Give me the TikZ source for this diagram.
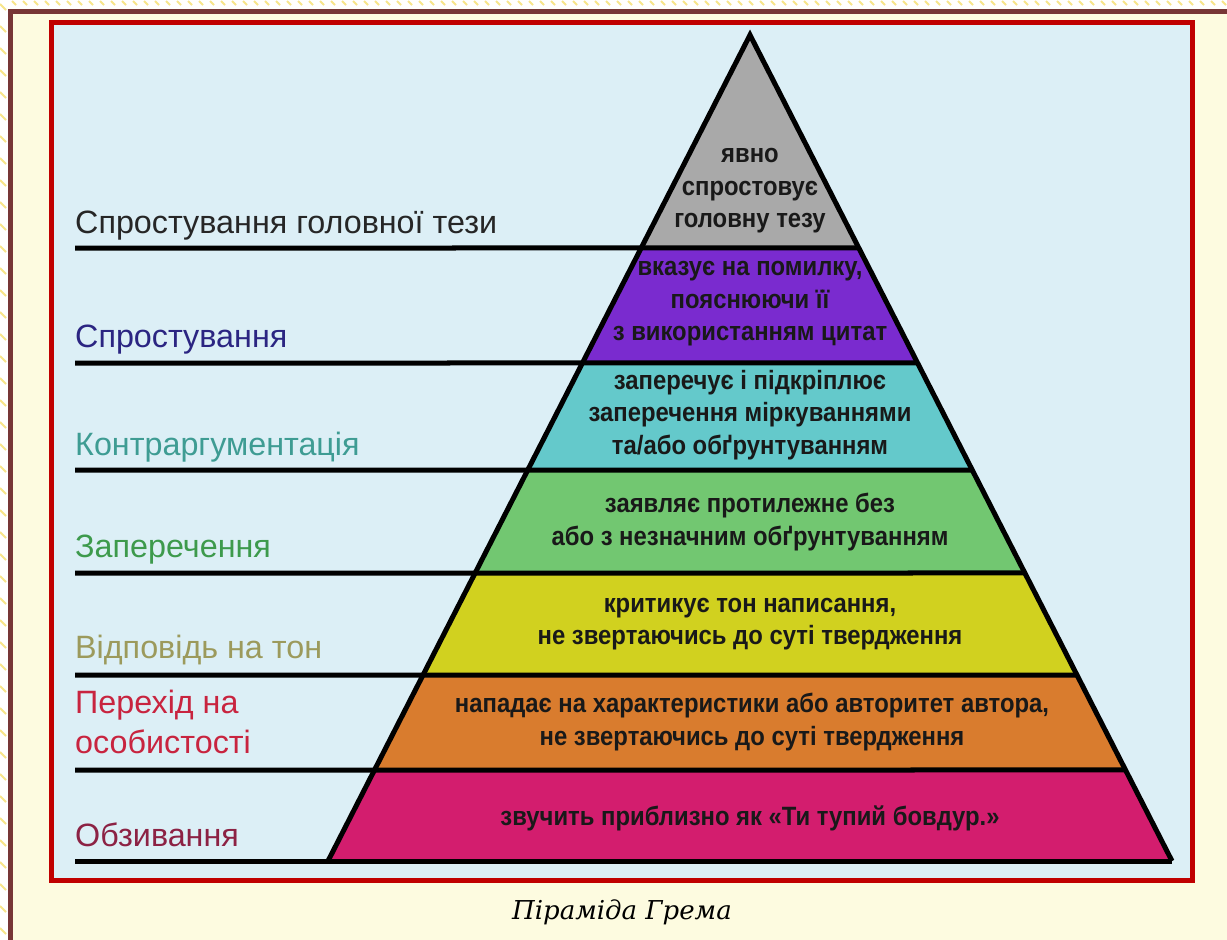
\documentclass[tikz,border=0pt]{standalone}
\usepackage{fontspec}
\setmainfont{Liberation Sans}
\newfontfamily\notefont[FakeStretch=0.9]{Liberation Sans}
\newfontfamily\capfont{DejaVu Serif}
\usetikzlibrary{calc}

% page and frame
\definecolor{pagebrown}{HTML}{773636}
\definecolor{pagecream}{HTML}{FDFBE0}
\definecolor{framered}{HTML}{C00000}
\definecolor{skyback}{HTML}{DCEFF6}
\definecolor{dashyellow}{HTML}{F7E58A}
% layers
\definecolor{lvgrey}{HTML}{A9A9A9}
\definecolor{lvpurple}{HTML}{7A2BCF}
\definecolor{lvcyan}{HTML}{64C9CB}
\definecolor{lvgreen}{HTML}{72C771}
\definecolor{lvyellow}{HTML}{D1D11F}
\definecolor{lvorange}{HTML}{D97C2E}
\definecolor{lvmagenta}{HTML}{D31D6E}
% side captions
\definecolor{tgrey}{HTML}{262626}
\definecolor{tpurple}{HTML}{2B2582}
\definecolor{tcyan}{HTML}{3E9C93}
\definecolor{tgreen}{HTML}{3D9A4C}
\definecolor{tolive}{HTML}{9C9A5C}
\definecolor{tred}{HTML}{C8243F}
\definecolor{tmaroon}{HTML}{8C2244}

\begin{document}
\begin{tikzpicture}[x=1pt, y=-1pt,
  tag/.style={anchor=base west, inner sep=0pt, text=#1,
              font=\fontsize{32.3}{40}\selectfont},
  note/.style={align=center, inner sep=0pt, text=black!90,
               font=\notefont\bfseries\fontsize{26.5}{32.5}\selectfont},
  sep/.style={line width=5pt}
]
  \useasboundingbox (0,0) rectangle (1227,940);
  \fill[white] (0,0) rectangle (1227,940);
  \foreach \y in {4,26,...,940}
    \draw[dashyellow, line width=2pt] (0,\y) -- (6,\y+6);
  \foreach \x in {12,23,...,1227}
    \draw[dashyellow, line width=2pt] (\x,1) -- (\x+4,5);
  \fill[pagecream] (13,14) rectangle (1227,940);
  \draw[pagebrown, line width=5pt] (10.5,940) -- (10.5,11.5) -- (1227,11.5);
  \filldraw[fill=skyback, draw=framered, line width=5pt] (51.5,22.5) rectangle (1192.5,880);

  % pyramid corners
  \coordinate (apex) at (750,35);
  \coordinate (bl) at (328,861);
  \coordinate (br) at (1172,861);

  % coloured layers
  \foreach \ya/\yb/\col in {35/248/lvgrey, 248/363/lvpurple, 363/470/lvcyan,
      470/573/lvgreen, 573/675/lvyellow, 675/770/lvorange, 770/861/lvmagenta}
    \fill[\col] ($(apex)!{(\ya-35)/826}!(bl)$) -- ($(apex)!{(\yb-35)/826}!(bl)$)
      -- ($(apex)!{(\yb-35)/826}!(br)$) -- ($(apex)!{(\ya-35)/826}!(br)$) -- cycle;

  % rules from the left margin across each layer border
  \foreach \yb [count=\i] in {248,363,470,573,675,770,861} {
    \coordinate (m\i) at (75,\yb);
    \coordinate (r\i) at ($(apex)!{(\yb-35)/826}!(br)$);
    \draw[sep] (m\i) -- (r\i);
  }
  \draw[line width=5pt] (bl) -- (apex) -- (br);

  % side captions
  \node[tag=tgrey] (main) at (75,233) {Спростування головної тези};
  \node[tag=tpurple] (refute) at (75,347) {Спростування};
  \node[tag=tcyan] (counter) at (75,455) {Контраргументація};
  \node[tag=tgreen] (contra) at (75,557) {Заперечення};
  \node[tag=tolive] (tone) at (75,658) {Відповідь на тон};
  \node[tag=tred, align=left] (adhom) at (75,753) {Перехід на\\особистості};
  \node[tag=tmaroon] (names) at (75,846) {Обзивання};

  % what each layer does
  \node[note] (d1) at (750,191) {явно\\спростовує\\головну тезу};
  \node[note] (d2) at (750,304) {вказує на помилку,\\пояснюючи її\\з використанням цитат};
  \node[note] (d3) at (750,415) {заперечує і підкріплює\\заперечення міркуваннями\\та/або обґрунтуванням};
  \node[note] (d4) at (750,522) {заявляє протилежне без\\або з незначним обґрунтуванням};
  \node[note] (d5) at (750,624) {критикує тон написання,\\не звертаючись до суті твердження};
  \node[note] (d6) at (752,722) {нападає на характеристики або авторитет автора,\\не звертаючись до суті твердження};
  \node[note] (d7) at (750,818) {звучить приблизно як «Ти тупий бовдур.»};

  \node[anchor=base, inner sep=0pt, font=\capfont\itshape\fontsize{26}{30}\selectfont]
    (caption) at (622,919) {Піраміда Грема};
\end{tikzpicture}
\end{document}
